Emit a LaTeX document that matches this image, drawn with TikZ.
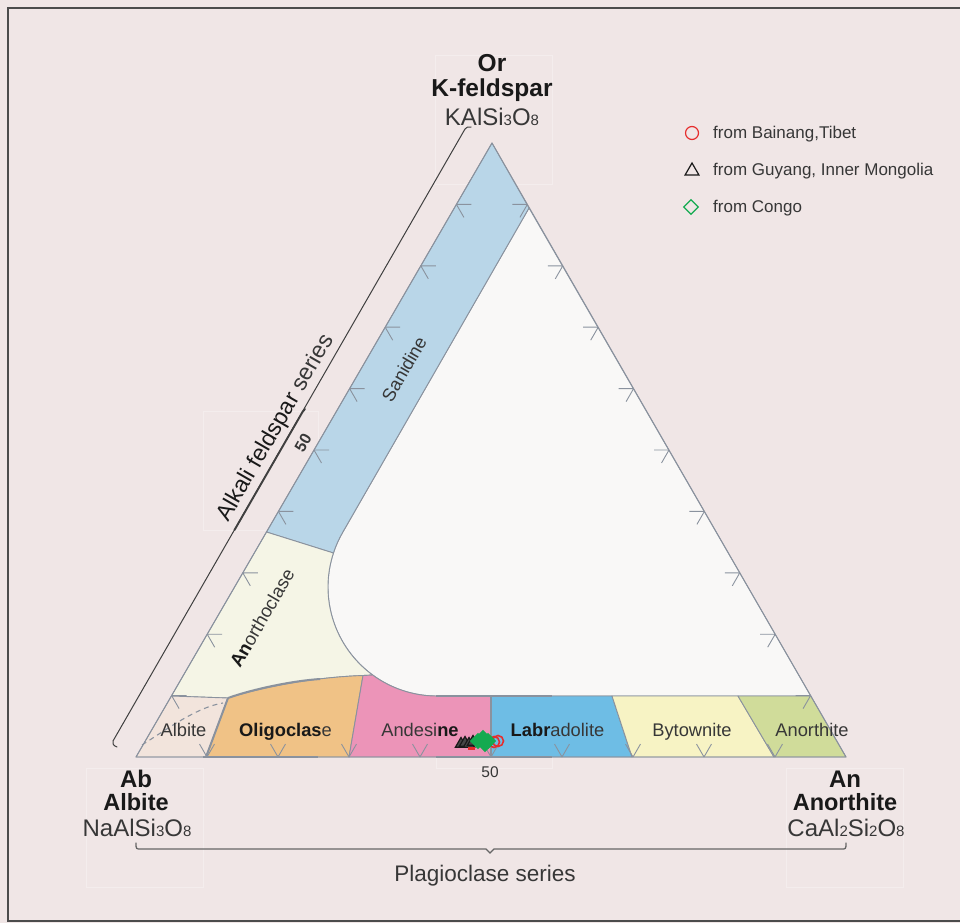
\documentclass[tikz,border=0pt]{standalone}
\usepackage{fontspec}
\setmainfont{Liberation Sans}
\usetikzlibrary{calc,shapes.geometric}
\definecolor{bg}{RGB}{240,230,230}
\definecolor{edge}{RGB}{138,146,158}
\definecolor{txt}{RGB}{55,55,55}
\definecolor{dark}{RGB}{25,25,25}
\definecolor{cSan}{RGB}{185,214,232}
\definecolor{cWhite}{RGB}{249,248,247}
\definecolor{cAnc}{RGB}{245,245,230}
\definecolor{cAlb}{RGB}{242,228,220}
\definecolor{cOli}{RGB}{240,194,134}
\definecolor{cAnd}{RGB}{236,148,184}
\definecolor{cLab}{RGB}{110,189,229}
\definecolor{cByt}{RGB}{247,243,196}
\definecolor{cAno}{RGB}{208,220,154}
\definecolor{mred}{RGB}{230,45,45}
\definecolor{mgreen}{RGB}{20,170,80}
\begin{document}
\begin{tikzpicture}[x=1pt,y=-1pt,
  region/.style={draw=edge,line width=0.9pt,line join=round},
  tickmark/.style={draw=edge,line width=0.9pt},
  thickedge/.style={draw=edge,line width=2pt},
  lab/.style={font=\fontsize{18.3}{22}\selectfont,text=txt,inner sep=0pt},
  vlab/.style={font=\fontsize{24}{28}\selectfont,text=dark,inner sep=0pt},
  leg/.style={font=\fontsize{17}{20}\selectfont,text=txt,inner sep=0pt,anchor=base west},
  faint/.style={draw=white,line width=0.6pt,opacity=0.3},
  brk/.style={draw=black!75,line width=1pt,line cap=round},
  msymb/.style={inner sep=0pt,line width=1.2pt}]
\useasboundingbox (0,0) rectangle (960,923);
\fill[bg] (0,0) rectangle (960,923);
\draw[draw=black!70,line width=1.6pt] (975,8) -- (8,8) -- (8,921) -- (975,921);

% vertices and key points
\coordinate (Or) at (492,143);
\coordinate (Ab) at (136,757);
\coordinate (An) at (846,757);
\coordinate (SL) at (266.5,532);
\coordinate (BL) at (171.4,696);
\coordinate (BR) at (810.8,696);
\coordinate (SR) at (529,208);
\coordinate (T) at (342.6,532.5);
\coordinate (S) at (333.4,553);
\coordinate (Q) at (372.6,675);
\coordinate (OA) at (363,675.5);
\coordinate (AO) at (228,698);

% faint boxes
\draw[faint] (435,55) rectangle (552,184);
\draw[faint] (203,411) rectangle (318,530);
\draw[faint] (436,694) rectangle (552,768);
\draw[faint] (86,768) rectangle (203,887);
\draw[faint] (786,768) rectangle (903,887);

% regions
\path[region,fill=cWhite] (T) -- (SR) -- (BR) -- (437,696) arc[start angle=90,end angle=210,radius=109] -- cycle;
\path[region,fill=cSan] (Or) -- (SL) -- (S) arc[start angle=198.2,end angle=210,radius=109] -- (SR) -- cycle;
\path[region,fill=cAnc] (SL) -- (BL) -- (AO) .. controls (270,685) and (320,677) .. (OA) -- (Q) arc[start angle=126.2,end angle=198.2,radius=109] -- cycle;
\path[region,fill=cAlb] (BL) -- (AO) -- (206,757) -- (Ab) -- cycle;
\path[region,fill=cOli] (AO) .. controls (270,685) and (320,677) .. (OA) -- (349,757) -- (206,757) -- cycle;
\path[region,fill=cAnd] (OA) -- (Q) arc[start angle=126.2,end angle=90,radius=109] -- (491,696) -- (491,757) -- (349,757) -- cycle;
\path[region,fill=cLab] (491,696) -- (612,696) -- (632,757) -- (491,757) -- cycle;
\path[region,fill=cByt] (612,696) -- (738,696) -- (774,757) -- (632,757) -- cycle;
\path[region,fill=cAno] (738,696) -- (BR) -- (An) -- (774,757) -- cycle;
\draw[region] (Or) -- (Ab) -- (An) -- cycle;

% dashed curve in albite
\draw[edge,dashed,line width=1.1pt,dash pattern=on 5pt off 4pt] (142,745) .. controls (170,727) and (198,707) .. (223,703);

% thicker overprinted segments
\draw[thickedge] (203,757) -- (318,757);
\draw[thickedge] (AO) -- (206,757);
\draw[thickedge] (AO) .. controls (250,690) and (290,681) .. (320,679);
\draw[thickedge] (436,696) -- (552,696);
\draw[thickedge] (436,757) -- (552,757);
\draw[thickedge] (491,696) -- (491,757);

% ticks
\foreach \k in {1,...,9}{
  \coordinate (L\k) at ($(Or)!\k/10!(Ab)$);
  \coordinate (R\k) at ($(Or)!\k/10!(An)$);
  \coordinate (B\k) at ($(Ab)!\k/10!(An)$);
  \draw[tickmark] (L\k) -- ++(15,0) (L\k) -- ++(7.5,13);
  \draw[tickmark] (R\k) -- ++(-15,0) (R\k) -- ++(-7.5,13);
  \draw[tickmark] (B\k) -- ++(-7.5,-13) (B\k) -- ++(7.5,-13);
}

% data points
\foreach \x/\y [count=\i] in {461/744,465/743,469/744,473/742}{
  \node[msymb,regular polygon,regular polygon sides=3,draw=dark,fill=dark!80,minimum size=13pt] (dt\i) at (\x,\y) {};
}
\node[inner sep=0pt,fill=mred,minimum width=7pt,minimum height=3pt] (dr0) at (471,748) {};
\foreach \x/\y [count=\i] in {494/742,498/741}{
  \node[msymb,circle,draw=mred,line width=1.6pt,minimum size=11pt] (dc\i) at (\x,\y) {};
}
\foreach \x/\y [count=\i] in {478/741,483/738,488/741,485/744}{
  \node[msymb,diamond,draw=mgreen,fill=mgreen,minimum size=15pt] (dd\i) at (\x,\y) {};
}

% band labels
\node[lab,anchor=base] (albite) at (183.5,736) {Albite};
\node[lab,anchor=base] (oligo) at (285.5,736) {\textcolor{dark}{\bfseries Oligoclas}e};
\node[lab,anchor=base] (andes) at (420,736) {Andesi\textcolor{dark}{\bfseries ne}};
\node[lab,anchor=base] (labra) at (557.5,736) {\textcolor{dark}{\bfseries Labr}adolite};
\node[lab,anchor=base] (bytow) at (692,736) {Bytownite};
\node[lab,anchor=base] (anort) at (812,736) {Anorthite};
\node[lab,rotate=60] (sanid) at (404,369) {Sanidine};
\node[lab,rotate=60,font=\fontsize{18.5}{22}\selectfont] (anocl) at (262,618) {\textcolor{dark}{\bfseries An}orthoclase};
\node[lab,rotate=60,font=\fontsize{16}{18}\selectfont\bfseries] (fifL) at (303,443) {50};
\node[lab,anchor=base,font=\fontsize{15.5}{18}\selectfont] (fifB) at (490,777) {50};

% vertex labels
\node[vlab,anchor=base,font=\fontsize{24.5}{28}\selectfont\bfseries] (orA) at (492,72) {Or};
\node[vlab,anchor=base,font=\fontsize{24.5}{28}\selectfont\bfseries] (orB) at (492,96) {K-feldspar};
\node[vlab,anchor=base,text=txt] (orC) at (492,125) {KAlSi{\fontsize{15}{15}\selectfont 3}O{\fontsize{15}{15}\selectfont 8}};
\node[vlab,anchor=base,font=\fontsize{24}{28}\selectfont\bfseries] (abA) at (136,787) {Ab};
\node[vlab,anchor=base,font=\fontsize{23.5}{28}\selectfont\bfseries] (abB) at (136,810) {Albite};
\node[vlab,anchor=base,text=txt] (abC) at (137,836) {NaAlSi{\fontsize{15}{15}\selectfont 3}O{\fontsize{15}{15}\selectfont 8}};
\node[vlab,anchor=base,font=\fontsize{24}{28}\selectfont\bfseries] (anA) at (845,787) {An};
\node[vlab,anchor=base,font=\fontsize{23.5}{28}\selectfont\bfseries] (anB) at (845,810) {Anorthite};
\node[vlab,anchor=base,text=txt] (anC) at (846,836) {CaAl{\fontsize{15}{15}\selectfont 2}Si{\fontsize{15}{15}\selectfont 2}O{\fontsize{15}{15}\selectfont 8}};

% brackets
\coordinate (kL1) at (117,747);
\coordinate (kL2) at (471,127);
\draw[brk] (kL1) .. controls (113,745) .. (113,741) -- (465,129) .. controls (467,127) .. (kL2);
\draw[brk,line width=1.9pt] (234.5,530) -- (302.5,412) -- (305,409);
\coordinate (kB1) at (136,843);
\coordinate (kB2) at (846,843);
\draw[brk,draw=black!60,line width=1.3pt] (kB1) .. controls (136,849) .. (141,849) -- (486,849) -- (490,853) -- (494,849) -- (841,849) .. controls (846,849) .. (kB2);
\node[lab,rotate=60,font=\fontsize{23}{26}\selectfont] (alk) at (276,428) {\textcolor{dark}{Alkali feldspar} series};
\node[lab,anchor=base,font=\fontsize{22.5}{26}\selectfont] (plag) at (485,881) {Plagioclase series};

% legend
\node[msymb,circle,draw=mred,minimum size=13pt] (lg1) at (692,133) {};
\node[msymb,regular polygon,regular polygon sides=3,draw=dark,minimum size=16pt] (lg2) at (692,171) {};
\node[msymb,diamond,draw=mgreen,minimum size=15pt] (lg3) at (691,207) {};
\node[leg] (lt1) at (713,138) {from Bainang,Tibet};
\node[leg] (lt2) at (713,175) {from Guyang, Inner Mongolia};
\node[leg] (lt3) at (713,212) {from Congo};
\end{tikzpicture}
\end{document}
